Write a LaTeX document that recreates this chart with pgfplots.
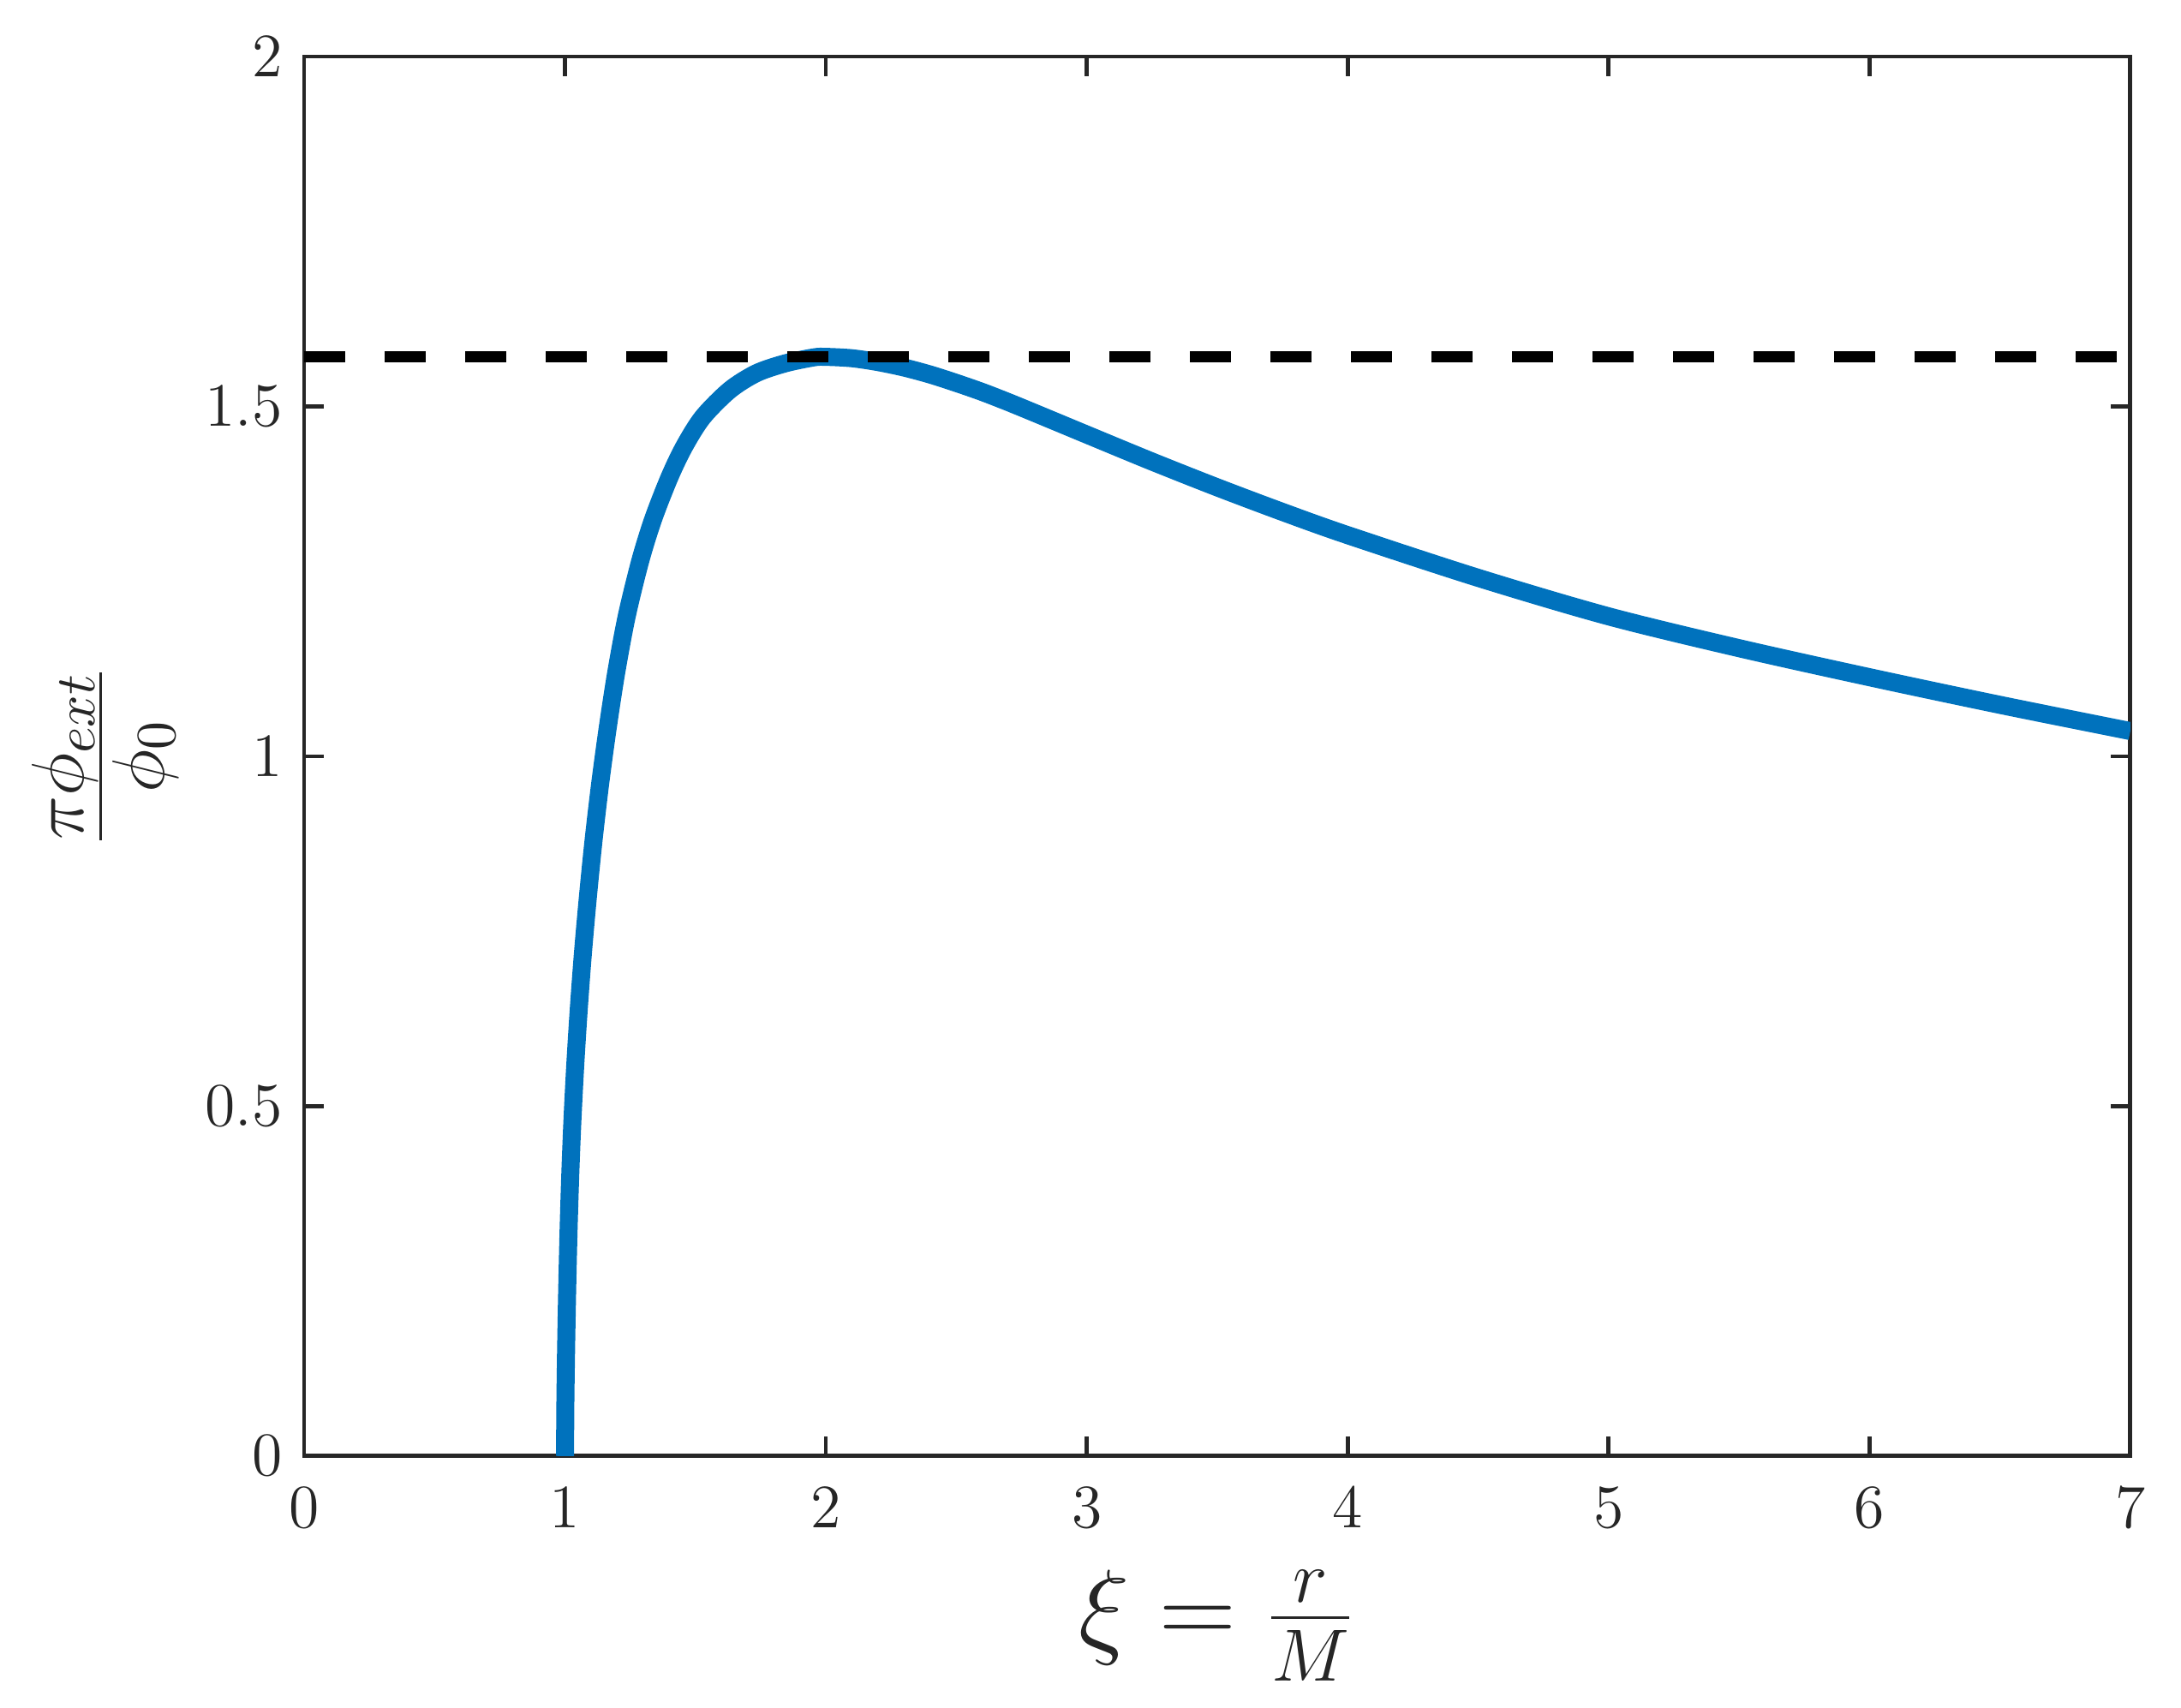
\documentclass[border=0pt]{standalone}
\usepackage{pgfplots}
\pgfplotsset{compat=1.18}
\definecolor{mblue}{HTML}{0072BD}
\definecolor{axgray}{HTML}{262626}

\begin{document}
\begin{tikzpicture}
\begin{axis}[
    scale only axis,
    width=355.3pt, height=272.3pt,
    xmin=0, xmax=7, ymin=0, ymax=2,
    xtick={0,1,2,3,4,5,6,7},
    ytick={0,0.5,1,1.5,2},
    tick align=inside,
    tick pos=both,
    major tick length=3.8pt,
    axis line style={line width=0.78pt, axgray},
    every tick/.style={line width=0.78pt, axgray},
    tick label style={font=\fontsize{12.4}{14}\selectfont, text=axgray},
    xticklabel shift=2.6pt,
    yticklabel shift=0.7pt,
    xlabel={\fontsize{22}{26}\selectfont$\xi = \frac{r}{M}$},
    ylabel={\fontsize{22}{26}\selectfont$\frac{\pi\phi_{ext}}{\phi_0}$},
    xlabel style={at={(axis description cs:0.5,-0.081)}, anchor=north, inner sep=0pt, text=axgray},
    ylabel style={at={(axis description cs:-0.109,0.5)}, anchor=center, inner sep=0pt, text=axgray},
]
% blue curve
\addplot[mblue, line width=3.5pt, smooth, tension=0.5] coordinates {
(1.0000,0.000) (1.0015,0.08) (1.0045,0.16) (1.0085,0.24) (1.0135,0.32)
(1.0200,0.40) (1.0285,0.48) (1.0395,0.56) (1.0530,0.64) (1.0690,0.72)
(1.0880,0.80) (1.1095,0.88) (1.1345,0.96) (1.1635,1.04) (1.1965,1.12)
(1.2365,1.20) (1.2890,1.28) (1.3390,1.34) (1.4020,1.40) (1.4590,1.444)
(1.5290,1.485) (1.6320,1.5235) (1.7340,1.5475) (1.8440,1.5615) (1.9530,1.5700)
(2.0000,1.5708) (2.1000,1.5688) (2.2000,1.5633) (2.3000,1.5555) (2.4000,1.5455)
(2.5000,1.5335) (2.6000,1.5205) (2.7000,1.5060) (2.8000,1.4907) (2.9000,1.4752)
(3.0000,1.4597) (3.2500,1.4212) (3.5000,1.3843) (3.7500,1.3492) (4.0000,1.3160)
(4.5000,1.2550) (5.0000,1.2000) (5.5000,1.1545) (6.0000,1.1130) (6.5000,1.0735)
(7.0000,1.0360)
};
% dashed level pi/2
\addplot[black, line width=2.2pt, dash pattern=on 8pt off 7.67pt] coordinates {
(0,1.5708) (7,1.5708)
};
\end{axis}
\path (-59.17pt,-49pt) rectangle (365.17pt,283.3pt);
\end{tikzpicture}
\end{document}
